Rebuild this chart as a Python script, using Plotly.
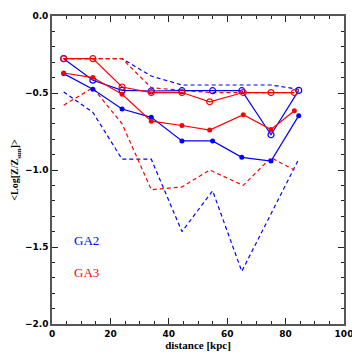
import plotly.graph_objects as go

# distances of the bins (kpc)
dist_ga2 = [4, 14, 24, 34, 44.5, 55, 65, 75, 84.5]
dist_ga3 = [4, 14, 24, 34, 44.5, 54, 65.5, 75, 83]

# GA2 (blue)
ga2_open = [-0.277, -0.417, -0.483, -0.487, -0.485, -0.485, -0.485, -0.771, -0.483]
ga2_fill = [-0.374, -0.476, -0.604, -0.658, -0.811, -0.811, -0.918, -0.942, -0.647]
ga2_hi = [-0.277, -0.277, -0.277, -0.39, -0.448, -0.448, -0.448, -0.448, -0.476]
ga2_lo = [-0.494, -0.626, -0.93, -0.93, -1.40, -1.135, -1.658, -1.29, -0.93]

# GA3 (red)
ga3_open = [-0.277, -0.277, -0.461, -0.497, -0.497, -0.557, -0.497, -0.497, -0.497]
ga3_fill = [-0.37, -0.40, -0.508, -0.683, -0.711, -0.741, -0.641, -0.737, -0.615]
ga3_hi = [-0.277, -0.277, -0.277, -0.466, -0.48, -0.497, -0.497, -0.497, -0.497]
ga3_lo = [-0.579, -0.466, -0.70, -1.128, -1.11, -1.0, -1.10, -0.92, -1.0]

BLUE = "#0000ff"
RED = "#ff0000"
DASH = "4px,3px"

fig = go.Figure()


def add_line(x, y, color, dash=None, marker=None):
    fig.add_trace(go.Scatter(
        x=x, y=y,
        mode="lines+markers" if marker else "lines",
        line=dict(color=color, width=1.2, dash=dash or "solid"),
        marker=marker,
        showlegend=False,
        hoverinfo="skip",
    ))


for x, hi, lo, col in [(dist_ga2, ga2_hi, ga2_lo, BLUE), (dist_ga3, ga3_hi, ga3_lo, RED)]:
    add_line(x, hi, col, dash=DASH)
    add_line(x, lo, col, dash=DASH)

for x, op, fl, col in [(dist_ga2, ga2_open, ga2_fill, BLUE), (dist_ga3, ga3_open, ga3_fill, RED)]:
    add_line(x, op, col, marker=dict(symbol="circle-open", size=6, color=col, line=dict(width=1.2, color=col)))
    add_line(x, fl, col, marker=dict(symbol="circle", size=5, color=col))

fig.add_annotation(x=7, y=-1.457, text="GA2", showarrow=False, xanchor="left",
                   font=dict(family="Liberation Serif", size=13, color=BLUE))
fig.add_annotation(x=7, y=-1.668, text="GA3", showarrow=False, xanchor="left",
                   font=dict(family="Liberation Serif", size=13, color=RED))

axis_common = dict(
    showline=True, linecolor="#555555", linewidth=1.6, mirror="ticks",
    ticks="inside", tickcolor="#222222", ticklen=6, tickwidth=1,
    showgrid=False, zeroline=False, automargin=False,
    tickfont=dict(family="DejaVu Sans", size=9, color="black", weight="bold"),
)

# the page body adds an 8px offset, so the figure is 352px and margins are shifted
fig.update_layout(
    width=352, height=352,
    margin=dict(l=44, r=16, t=8, b=36),
    plot_bgcolor="white", paper_bgcolor="white",
    xaxis=dict(
        range=[0, 100], dtick=20, tick0=0,
        minor=dict(dtick=5, ticks="inside", ticklen=3, tickcolor="#222222"),
        title=dict(text="<b>distance [kpc]</b>", standoff=3,
                   font=dict(family="Liberation Serif", size=11, color="black")),
        **axis_common,
    ),
    yaxis=dict(
        range=[-2.0, 0.0], dtick=0.5, tick0=0, tickformat=".1f",
        minor=dict(dtick=0.1, ticks="inside", ticklen=3, tickcolor="#222222"),
        title=dict(text="<b>&lt;Log[Z/Z<sub>sun</sub>]&gt;</b>", standoff=4,
                   font=dict(family="Liberation Serif", size=10, color="black")),
        **axis_common,
    ),
)

fig.write_html("out.html")
